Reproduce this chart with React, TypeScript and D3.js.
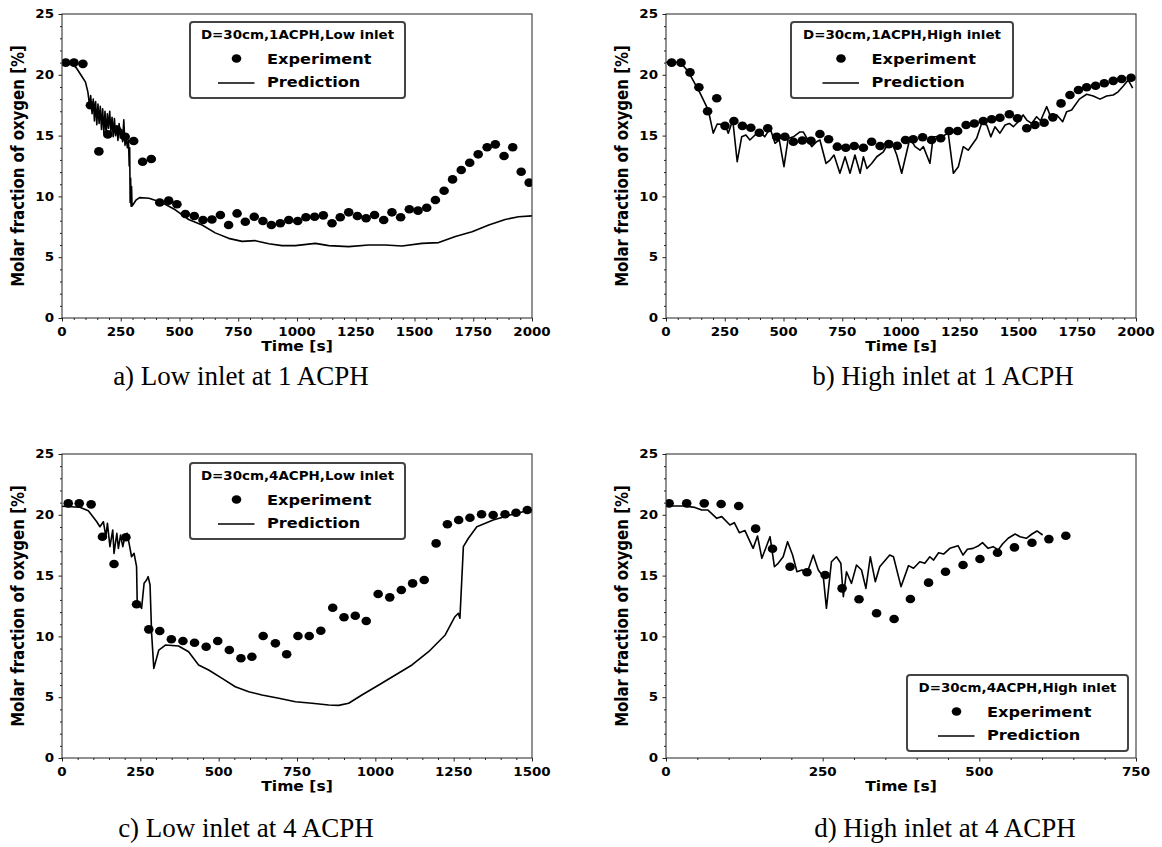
import React, { useEffect, useRef } from "react";
import * as d3 from "d3";

type Pt = [number, number];

// experiment points [time s, O2 %]
const expLow1: Pt[] = [
  [16, 21.0], [51, 21.0], [89, 20.9], [121, 17.5], [157, 13.7], [195, 15.1], [232, 15.5], [269, 14.9],
  [305, 14.55], [343, 12.85], [380, 13.07], [416, 9.5], [454, 9.65], [489, 9.35], [525, 8.55], [563, 8.39],
  [600, 8.06], [638, 8.1], [674, 8.47], [709, 7.65], [745, 8.6], [780, 7.92], [818, 8.33], [855, 7.98],
  [891, 7.65], [929, 7.79], [965, 8.06], [1003, 7.98], [1038, 8.28], [1075, 8.33], [1112, 8.44], [1149, 7.79],
  [1184, 8.28], [1220, 8.69], [1257, 8.39], [1294, 8.2], [1330, 8.47], [1369, 8.06], [1404, 8.69], [1441, 8.28],
  [1478, 8.94], [1515, 8.83], [1552, 9.07], [1589, 9.7], [1626, 10.47], [1662, 11.4], [1699, 12.17], [1735, 12.77],
  [1771, 13.46], [1809, 14.04], [1844, 14.28], [1881, 13.32], [1918, 14.04], [1954, 12.03], [1988, 11.13],
];

const predLow1: Pt[] = [
  [0, 21.0], [20, 21.0], [40, 20.9], [60, 20.6], [80, 20.0], [100, 19.4], [110, 18.6], [118, 17.4],
  [122, 18.3], [128, 16.8], [133, 18.0], [138, 16.2], [143, 17.8], [148, 15.9], [153, 17.6], [158, 16.0],
  [163, 17.4], [168, 15.5], [173, 17.2], [178, 15.2], [183, 17.0], [188, 15.0], [193, 16.8], [198, 15.6],
  [203, 17.0], [208, 15.3], [213, 16.5], [218, 14.9], [223, 16.4], [228, 15.0], [233, 15.8], [238, 14.6],
  [243, 16.0], [248, 14.8], [253, 15.5], [258, 14.5], [263, 16.3], [268, 14.2], [273, 15.0], [278, 14.0],
  [283, 14.6], [286, 12.5], [288, 14.0], [290, 9.5], [292, 11.5], [294, 9.2], [296, 10.8], [298, 9.2],
  [305, 9.4], [315, 9.7], [330, 9.9], [370, 9.85], [425, 9.5], [482, 8.9], [539, 8.1], [596, 7.65],
  [652, 7.0], [709, 6.55], [766, 6.3], [823, 6.36], [880, 6.1], [936, 5.95], [993, 5.95], [1078, 6.14],
  [1135, 5.95], [1220, 5.87], [1305, 6.0], [1376, 6.0], [1447, 5.92], [1532, 6.14], [1603, 6.2], [1674, 6.7],
  [1745, 7.1], [1816, 7.65], [1886, 8.1], [1943, 8.33], [2000, 8.4],
];

const expHigh1: Pt[] = [
  [24, 21.0], [64, 21.0], [102, 20.2], [140, 18.97], [177, 17.0], [216, 18.07], [251, 15.8], [289, 16.2],
  [325, 15.8], [361, 15.65], [397, 15.24], [433, 15.6], [471, 14.9], [506, 14.9], [542, 14.5], [580, 14.6],
  [617, 14.58], [655, 15.13], [692, 14.7], [729, 14.09], [765, 14.0], [801, 14.14], [840, 14.0], [875, 14.5],
  [911, 14.14], [948, 14.3], [984, 14.17], [1019, 14.64], [1052, 14.7], [1092, 14.86], [1130, 14.64], [1169, 14.78],
  [1205, 15.38], [1241, 15.38], [1277, 15.87], [1312, 16.0], [1350, 16.2], [1386, 16.34], [1421, 16.47], [1461, 16.75],
  [1496, 16.42], [1535, 15.6], [1570, 15.87], [1609, 16.06], [1646, 16.5], [1681, 17.65], [1719, 18.34], [1755, 18.75],
  [1790, 18.97], [1828, 19.1], [1865, 19.3], [1903, 19.5], [1939, 19.65], [1979, 19.76],
];

const predHigh1: Pt[] = [
  [0, 21.03], [60, 21.03], [95, 20.27], [145, 18.5], [180, 17.1], [201, 15.2], [218, 15.95], [251, 15.9],
  [265, 15.2], [284, 16.28], [303, 12.86], [322, 14.9], [340, 15.05], [357, 14.64], [379, 15.05], [400, 15.3],
  [420, 14.9], [443, 15.6], [464, 14.37], [482, 14.64], [502, 12.44], [520, 14.77], [542, 14.9], [570, 15.3],
  [584, 15.3], [620, 14.09], [641, 14.5], [655, 14.64], [681, 12.71], [698, 12.99], [715, 13.4], [740, 11.9],
  [762, 13.26], [783, 11.9], [804, 13.4], [826, 11.9], [840, 13.26], [855, 12.3], [875, 12.71], [897, 13.26],
  [925, 13.67], [946, 14.37], [960, 14.5], [982, 13.4], [1003, 11.9], [1038, 14.78], [1060, 14.09], [1081, 13.8],
  [1095, 14.09], [1123, 12.72], [1137, 14.9], [1173, 14.9], [1201, 15.2], [1223, 11.9], [1244, 12.44], [1265, 14.09],
  [1286, 13.8], [1322, 14.78], [1343, 16.0], [1365, 15.87], [1382, 14.9], [1400, 15.73], [1421, 15.2], [1443, 15.87],
  [1461, 16.0], [1478, 15.73], [1506, 16.28], [1520, 16.7], [1535, 16.28], [1556, 16.0], [1577, 16.55], [1594, 16.22],
  [1620, 17.38], [1637, 16.55], [1663, 16.7], [1688, 16.14], [1705, 16.97], [1726, 17.1], [1759, 18.0], [1790, 18.4],
  [1818, 18.26], [1847, 18.0], [1875, 18.26], [1903, 18.34], [1924, 18.6], [1946, 19.08], [1967, 19.57], [1986, 18.9],
];

const expLow4: Pt[] = [
  [20, 20.94], [55, 20.94], [93, 20.86], [129, 18.2], [166, 15.95], [204, 18.15], [238, 12.64], [277, 10.58],
  [312, 10.44], [349, 9.76], [386, 9.62], [423, 9.48], [460, 9.15], [497, 9.62], [534, 8.88], [571, 8.2],
  [606, 8.33], [642, 10.03], [681, 9.43], [717, 8.53], [753, 10.03], [789, 10.03], [826, 10.47], [864, 12.36],
  [900, 11.57], [936, 11.7], [971, 11.27], [1009, 13.49], [1046, 13.21], [1083, 13.82], [1119, 14.36], [1156, 14.64],
  [1194, 17.65], [1230, 19.22], [1266, 19.57], [1302, 19.76], [1339, 20.04], [1376, 19.98], [1414, 20.04], [1449, 20.17],
  [1485, 20.39],
];

const predLow4: Pt[] = [
  [0, 20.7], [57, 20.62], [84, 20.34], [111, 19.43], [121, 19.02], [132, 19.43], [140, 18.2], [145, 19.3],
  [153, 17.38], [162, 18.75], [166, 16.83], [175, 18.48], [180, 17.24], [187, 18.34], [194, 17.38], [201, 18.2],
  [208, 18.48], [215, 17.52], [222, 16.55], [230, 16.83], [238, 15.73], [240, 12.86], [254, 12.31], [262, 14.37],
  [270, 14.64], [275, 14.91], [281, 14.23], [286, 10.25], [293, 7.37], [309, 8.88], [330, 9.29], [372, 9.21],
  [404, 8.74], [436, 7.65], [468, 7.24], [511, 6.55], [553, 5.86], [596, 5.45], [638, 5.18], [692, 4.91],
  [745, 4.63], [798, 4.5], [851, 4.36], [883, 4.33], [915, 4.5], [957, 5.18], [1011, 6.0], [1064, 6.83],
  [1117, 7.65], [1170, 8.74], [1223, 10.12], [1245, 11.2], [1254, 11.62], [1265, 11.9], [1270, 11.5], [1281, 17.38],
  [1297, 18.07], [1324, 19.02], [1351, 19.3], [1376, 19.57], [1430, 19.98], [1494, 20.39], [1500, 20.4],
];

const expHigh4: Pt[] = [
  [5, 20.94], [33, 20.94], [61, 20.94], [88, 20.89], [116, 20.72], [143, 18.86], [170, 17.21], [198, 15.73],
  [225, 15.27], [254, 15.05], [281, 13.95], [308, 13.05], [336, 11.9], [364, 11.43], [390, 13.07], [419, 14.42],
  [446, 15.32], [474, 15.87], [501, 16.36], [529, 16.88], [556, 17.32], [584, 17.7], [611, 18.0], [638, 18.28],
];

const predHigh4: Pt[] = [
  [0, 20.72], [28, 20.72], [46, 20.61], [57, 20.39], [67, 20.39], [81, 19.71], [89, 19.85], [102, 19.16],
  [109, 19.35], [117, 18.53], [126, 18.7], [139, 17.24], [146, 18.26], [153, 16.42], [166, 18.2], [173, 15.73],
  [179, 16.01], [187, 16.55], [194, 17.79], [202, 16.69], [209, 15.32], [217, 15.46], [225, 15.19], [235, 16.69],
  [243, 15.46], [251, 14.91], [256, 12.31], [264, 16.14], [272, 16.55], [279, 16.01], [283, 13.26], [288, 15.32],
  [296, 14.36], [304, 15.87], [312, 15.46], [319, 13.95], [326, 16.55], [334, 14.5], [341, 15.73], [357, 16.69],
  [363, 16.55], [375, 14.09], [387, 15.82], [395, 15.6], [405, 16.14], [413, 16.01], [421, 16.55], [427, 16.28],
  [435, 16.88], [443, 16.77], [453, 17.24], [466, 17.46], [474, 16.69], [481, 17.16], [490, 17.24], [498, 17.43],
  [505, 17.71], [514, 17.24], [522, 17.38], [530, 17.11], [537, 17.6], [546, 18.07], [557, 18.42], [565, 18.2],
  [575, 18.07], [584, 18.42], [592, 18.67], [601, 18.34],
];

const ticks2000 = [0, 250, 500, 750, 1000, 1250, 1500, 1750, 2000];
const ticks1500 = [0, 250, 500, 750, 1000, 1250, 1500];
const ticks750 = [0, 250, 500, 750];
const yTicks = [0, 5, 10, 15, 20, 25];

const panels = [
  { key: "a", left: 62, top: 14, xMax: 2000, xTicks: ticks2000, exp: expLow1, pred: predLow1,
    legend: "D=30cm,1ACPH,Low inlet", lgX: 297.5, lgY: 22, lgW: 215, caption: "a) Low inlet at 1 ACPH", capX: 241, capY: 385 },
  { key: "b", left: 666, top: 14, xMax: 2000, xTicks: ticks2000, exp: expHigh1, pred: predHigh1,
    legend: "D=30cm,1ACPH,High inlet", lgX: 902, lgY: 22, lgW: 222, caption: "b) High inlet at 1 ACPH", capX: 943, capY: 385 },
  { key: "c", left: 62, top: 454, xMax: 1500, xTicks: ticks1500, exp: expLow4, pred: predLow4,
    legend: "D=30cm,4ACPH,Low inlet", lgX: 297.5, lgY: 463, lgW: 215, caption: "c) Low inlet at 4 ACPH", capX: 246, capY: 837 },
  { key: "d", left: 666, top: 454, xMax: 750, xTicks: ticks750, exp: expHigh4, pred: predHigh4,
    legend: "D=30cm,4ACPH,High inlet", lgX: 1017.5, lgY: 675, lgW: 221, caption: "d) High inlet at 4 ACPH", capX: 945, capY: 837 },
];

const W = 470;
const H = 304;
const SX = 1.18; // the chart images are stretched horizontally
const FONT = "DejaVu Sans";

const App = () => {
  const svgRef = useRef<SVGSVGElement | null>(null);

  useEffect(() => {
    const svg = d3.select(svgRef.current);
    svg.selectAll("*").remove();

    const stext = (sel: any, x: number, y: number, str: string, size: number, anchor = "middle", sx = SX) =>
      sel
        .append("text")
        .attr("transform", `translate(${x},${y}) scale(${sx},1)`)
        .attr("text-anchor", anchor)
        .attr("font-family", FONT)
        .attr("font-weight", "bold")
        .attr("font-size", size)
        .attr("fill", "#000")
        .text(str);

    panels.forEach((p) => {
      const x = d3.scaleLinear().domain([0, p.xMax]).range([p.left, p.left + W]);
      const y = d3.scaleLinear().domain([0, 25]).range([p.top + H, p.top]);
      const g = svg.append("g");

      g.append("clipPath")
        .attr("id", `clip-${p.key}`)
        .append("rect")
        .attr("x", p.left)
        .attr("y", p.top)
        .attr("width", W)
        .attr("height", H);

      const plot = g.append("g").attr("clip-path", `url(#clip-${p.key})`);

      // prediction line
      plot
        .append("path")
        .datum(p.pred)
        .attr("d", d3.line<Pt>().x((d) => x(d[0])).y((d) => y(d[1])))
        .attr("fill", "none")
        .attr("stroke", "#000")
        .attr("stroke-width", 1.6)
        .attr("stroke-linejoin", "round");

      // experiment dots
      plot
        .selectAll("ellipse")
        .data(p.exp)
        .join("ellipse")
        .attr("cx", (d) => x(d[0]))
        .attr("cy", (d) => y(d[1]))
        .attr("rx", 4.8)
        .attr("ry", 4.3)
        .attr("fill", "#000");

      // frame
      g.append("rect")
        .attr("x", p.left)
        .attr("y", p.top)
        .attr("width", W)
        .attr("height", H)
        .attr("fill", "none")
        .attr("stroke", "#222")
        .attr("stroke-width", 1);

      // ticks
      const minorX = d3.range(0, p.xMax + 1, 50).filter((v) => !p.xTicks.includes(v));
      const minorY = d3.range(0, 26, 1).filter((v) => !yTicks.includes(v));

      const axisStyle = (a: any) => {
        a.select(".domain").remove();
        a.selectAll("line").attr("stroke", "#222");
      };

      g.append("g")
        .attr("transform", `translate(0,${p.top + H})`)
        .call(d3.axisBottom(x).tickValues(p.xTicks).tickSize(3.5).tickFormat(() => ""))
        .call(axisStyle);
      g.append("g")
        .attr("transform", `translate(0,${p.top + H})`)
        .call(d3.axisBottom(x).tickValues(minorX).tickSize(2).tickFormat(() => ""))
        .call(axisStyle);
      g.append("g")
        .attr("transform", `translate(${p.left},0)`)
        .call(d3.axisLeft(y).tickValues(yTicks).tickSize(3.5).tickFormat(() => ""))
        .call(axisStyle);
      g.append("g")
        .attr("transform", `translate(${p.left},0)`)
        .call(d3.axisLeft(y).tickValues(minorY).tickSize(2).tickFormat(() => ""))
        .call(axisStyle);

      p.xTicks.forEach((t) => stext(g, x(t), p.top + H + 18, String(t), 11.4));
      yTicks.forEach((t) => stext(g, p.left - 8, y(t) + 4.2, String(t), 11.4, "end"));

      stext(g, p.left + W / 2, p.top + H + 33, "Time [s]", 13.2);

      g.append("text")
        .attr("transform", `translate(${p.left - 38.5},${p.top + H / 2}) scale(${SX},1) rotate(-90)`)
        .attr("text-anchor", "middle")
        .attr("font-family", FONT)
        .attr("font-weight", "bold")
        .attr("font-size", 15)
        .text("Molar fraction of oxygen [%]");

      // legend
      const lg = g.append("g");
      lg.append("rect")
        .attr("x", p.lgX - p.lgW / 2)
        .attr("y", p.lgY)
        .attr("width", p.lgW)
        .attr("height", 76)
        .attr("rx", 3)
        .attr("fill", "#fff")
        .attr("stroke", "#444")
        .attr("stroke-width", 2);
      stext(lg, p.lgX, p.lgY + 16.5, p.legend, 11.4);
      lg.append("ellipse")
        .attr("cx", p.lgX - 61)
        .attr("cy", p.lgY + 36.5)
        .attr("rx", 4.8)
        .attr("ry", 4.3)
        .attr("fill", "#000");
      lg.append("line")
        .attr("x1", p.lgX - 79.5)
        .attr("x2", p.lgX - 43)
        .attr("y1", p.lgY + 61)
        .attr("y2", p.lgY + 61)
        .attr("stroke", "#000")
        .attr("stroke-width", 1.6);
      stext(lg, p.lgX - 30.5, p.lgY + 41.5, "Experiment", 13.7, "start");
      stext(lg, p.lgX - 30.5, p.lgY + 64.5, "Prediction", 13.7, "start");

      // caption (document text, not stretched)
      g.append("text")
        .attr("x", p.capX)
        .attr("y", p.capY)
        .attr("text-anchor", "middle")
        .attr("font-family", "Liberation Serif, Times New Roman, serif")
        .attr("font-size", 27)
        .attr("fill", "#000")
        .text(p.caption);
    });
  }, []);

  return (
    <svg
      ref={svgRef}
      width={1162}
      height={847}
      style={{ position: "absolute", left: 0, top: 0, background: "#fff" }}
    />
  );
};

export default App;
